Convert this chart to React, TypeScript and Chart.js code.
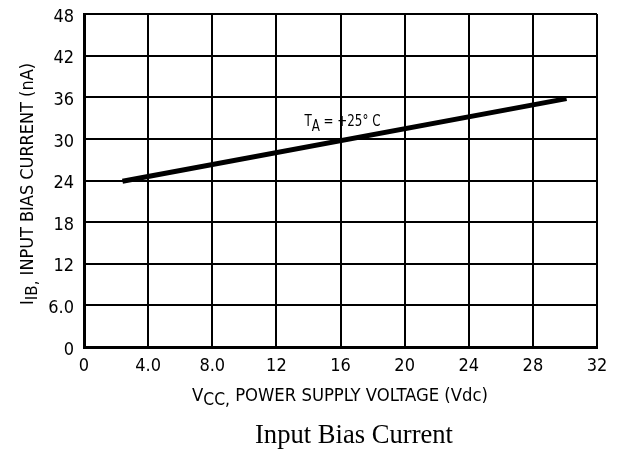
import React, { useEffect, useRef } from "react";
import { Chart, registerables } from "chart.js";

Chart.register(...registerables);

const xTickValues = [0, 4, 8, 12, 16, 20, 24, 28, 32];
const xTickLabels = ["0", "4.0", "8.0", "12", "16", "20", "24", "28", "32"];
const yTickValues = [0, 6, 12, 18, 24, 30, 36, 42, 48];
const yTickLabels = ["0", "6.0", "12", "18", "24", "30", "36", "42", "48"];
const supplyVoltage = [2.4, 30.1];
const biasCurrent = [23.9, 35.8];
const curveLabel = { main: "T", sub: "A", rest: " = +25° C" };
const yTitle = { main: "I", sub: "IB,", rest: " INPUT BIAS CURRENT (nA)" };
const xTitle = { main: "V", sub: "CC,", rest: " POWER SUPPLY VOLTAGE (Vdc)" };
const caption = "Input Bias Current";

const NARROW = '"Liberation Sans Narrow", "DejaVu Sans Condensed", "Liberation Sans", sans-serif';

// draws text starting at (0,0) on baseline, squeezed horizontally to targetWidth
function drawSubText(
  ctx: CanvasRenderingContext2D,
  t: { main: string; sub: string; rest: string },
  size: number,
  subSize: number,
  subDrop: number,
  targetWidth: number
) {
  ctx.font = `${size}px ${NARROW}`;
  const w1 = ctx.measureText(t.main).width;
  ctx.font = `${subSize}px ${NARROW}`;
  const w2 = ctx.measureText(t.sub).width;
  ctx.font = `${size}px ${NARROW}`;
  const w3 = ctx.measureText(t.rest).width;
  const total = w1 + w2 + w3;
  ctx.save();
  ctx.scale(targetWidth / total, 1);
  let x = 0;
  ctx.textAlign = "left";
  ctx.textBaseline = "alphabetic";
  ctx.font = `${size}px ${NARROW}`;
  ctx.fillText(t.main, x, 0);
  x += w1;
  ctx.font = `${subSize}px ${NARROW}`;
  ctx.fillText(t.sub, x, subDrop);
  x += w2;
  ctx.font = `${size}px ${NARROW}`;
  ctx.fillText(t.rest, x, 0);
  ctx.restore();
}

const textPlugin = {
  id: "texts",
  afterDraw(chart: any) {
    const ctx = chart.ctx as CanvasRenderingContext2D;
    const xs = chart.scales.x;
    const ys = chart.scales.y;
    ctx.save();
    ctx.fillStyle = "#000";
    // curve label
    ctx.save();
    ctx.translate(xs.getPixelForValue(13.75), ys.getPixelForValue(31.9));
    drawSubText(ctx, curveLabel, 16, 16, 5, 76);
    ctx.restore();
    // y title
    ctx.save();
    ctx.translate(33, 305);
    ctx.rotate(-Math.PI / 2);
    drawSubText(ctx, yTitle, 17, 16, 4, 242);
    ctx.restore();
    // x title
    ctx.save();
    ctx.translate(192, 401);
    drawSubText(ctx, xTitle, 18, 17, 4, 296);
    ctx.restore();
    // caption
    ctx.font = '27px "Liberation Serif", "Times New Roman", serif';
    const cw = ctx.measureText(caption).width;
    ctx.save();
    ctx.translate(255, 443);
    ctx.scale(198 / cw, 1);
    ctx.textAlign = "left";
    ctx.textBaseline = "alphabetic";
    ctx.fillText(caption, 0, 0);
    ctx.restore();
    ctx.restore();
  },
};

export default function App() {
  const ref = useRef<HTMLCanvasElement | null>(null);
  useEffect(() => {
    if (!ref.current) return;
    const chart = new Chart(ref.current, {
      type: "scatter",
      data: {
        datasets: [
          {
            data: supplyVoltage.map((v, i) => ({ x: v, y: biasCurrent[i] })),
            showLine: true,
            borderColor: "#000",
            borderWidth: 5,
            pointRadius: 0,
            borderCapStyle: "butt",
          },
        ],
      },
      options: {
        animation: false,
        responsive: false,
        devicePixelRatio: 1,
        layout: { padding: { left: 0, right: 20, top: 14, bottom: 0 } },
        plugins: { legend: { display: false }, tooltip: { enabled: false }, title: { display: false } },
        scales: {
          x: {
            type: "linear",
            min: 0,
            max: 32,
            afterBuildTicks: (s: any) => {
              s.ticks = xTickValues.map((v) => ({ value: v }));
            },
            afterFit: (s: any) => {
              s.height = 105;
              s.paddingLeft = 0;
              s.paddingRight = 0;
            },
            ticks: {
              color: "#000",
              padding: 9,
              maxRotation: 0,
              font: { family: NARROW, size: 18 },
              callback: (v: any) => {
                const i = xTickValues.indexOf(Number(v));
                return i >= 0 ? xTickLabels[i] : "";
              },
            },
            grid: { color: "#000", lineWidth: 2, drawTicks: false },
            border: { color: "#000", width: 3 },
          },
          y: {
            type: "linear",
            min: 0,
            max: 48,
            afterBuildTicks: (s: any) => {
              s.ticks = yTickValues.map((v) => ({ value: v }));
            },
            afterFit: (s: any) => {
              s.width = 84;
              s.paddingTop = 0;
              s.paddingBottom = 0;
            },
            ticks: {
              color: "#000",
              padding: 10,
              labelOffset: 3,
              font: { family: NARROW, size: 18 },
              callback: (v: any) => {
                const i = yTickValues.indexOf(Number(v));
                return i >= 0 ? yTickLabels[i] : "";
              },
            },
            grid: { color: "#000", lineWidth: 2, drawTicks: false },
            border: { color: "#000", width: 3 },
          },
        },
      },
      plugins: [textPlugin],
    } as any);
    return () => chart.destroy();
  }, []);
  return (
    <div style={{ position: "fixed", left: 0, top: 0, width: 617, height: 452, background: "#fff" }}>
      <canvas ref={ref} width={617} height={452} style={{ width: 617, height: 452, display: "block" }} />
    </div>
  );
}
